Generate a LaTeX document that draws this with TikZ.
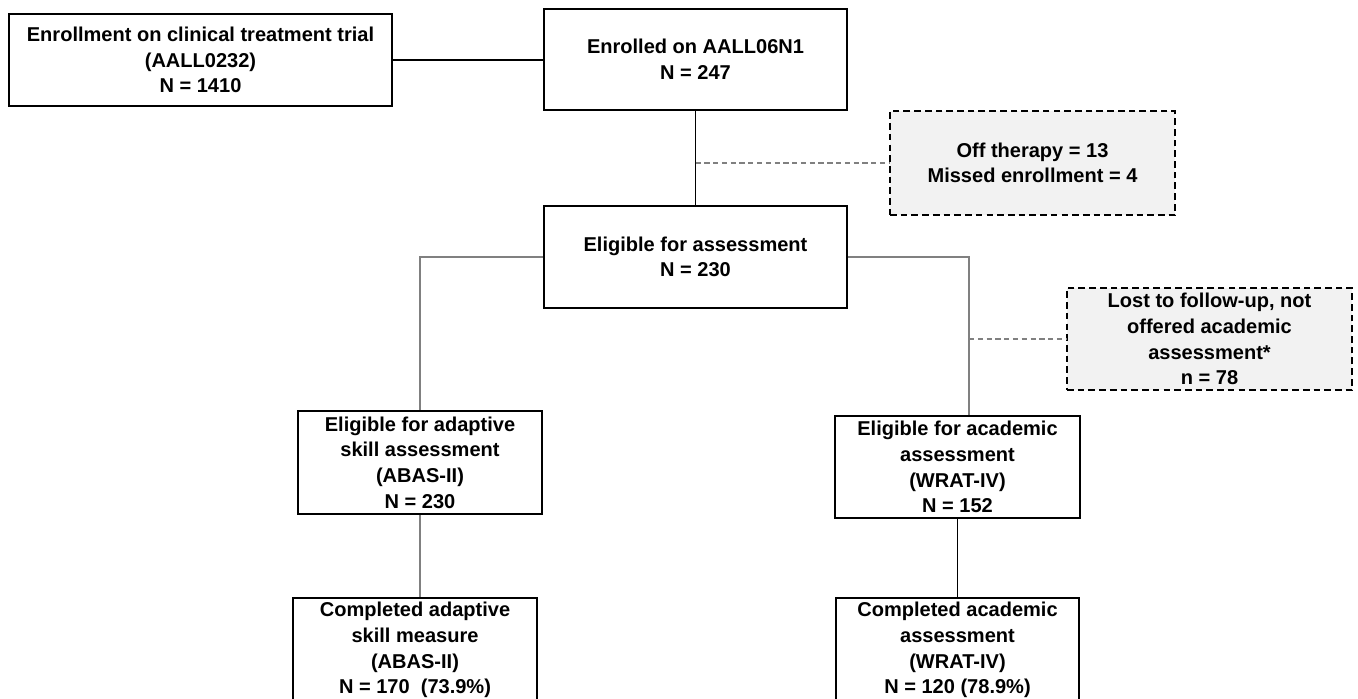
\documentclass[tikz,border=0pt]{standalone}
\usepackage{fontspec}
\setmainfont{Liberation Sans}
\usepackage{tikz}

\begin{document}
\begin{tikzpicture}[x=0.02cm,y=-0.02cm,
                    box/.style={draw,line width=1.1pt,align=center,inner sep=0pt,
                                font=\fontsize{11.4}{14.6}\selectfont\bfseries},
                    lostbox/.style={box,dash pattern=on 3.8pt off 2.3pt,fill=gray!10},
                    link/.style={line width=0.6pt},
                    branch/.style={line width=0.8pt,draw=gray},
                    aside/.style={line width=0.6pt,draw=gray,densely dashed}]
                    \useasboundingbox (0,0) rectangle (1358,698);

                    \node[box,minimum width=7.66cm,minimum height=1.84cm] at (200.5,60) (trial) {Enrollment on clinical treatment trial\\(AALL0232)\\N = 1410};
                    \node[box,minimum width=6.06cm,minimum height=2.02cm] at (695.5,59.5) (enrolled) {Enrolled on AALL06N1\\N = 247};
                    \node[lostbox,minimum width=5.7cm,minimum height=2.08cm] at (1032.5,163) (offtherapy) {Off therapy = 13\\Missed enrollment = 4};
                    \node[box,minimum width=6.06cm,minimum height=2.04cm] at (695.5,257) (eligible) {Eligible for assessment\\N = 230};
                    \node[lostbox,minimum width=5.7cm,minimum height=2.04cm] at (1209.5,339) (lost) {Lost to follow-up, not\\offered academic\\assessment*\\n = 78};
                    \node[box,minimum width=4.88cm,minimum height=2.06cm] at (420,462.5) (adaptive) {Eligible for adaptive\\skill assessment\\(ABAS-II)\\N = 230};
                    \node[box,minimum width=4.9cm,minimum height=2.04cm] at (957.5,467) (academic) {Eligible for academic\\assessment\\(WRAT-IV)\\N = 152};
                    \node[box,minimum width=4.88cm,minimum height=2.08cm] at (415,650) (adaptdone) {Completed adaptive\\skill measure\\(ABAS-II)\\N = 170~~(73.9\%)};
                    \node[box,minimum width=4.86cm,minimum height=2.08cm] at (957.5,650) (acaddone) {Completed academic\\assessment\\(WRAT-IV)\\N = 120 (78.9\%)};
                    \coordinate (split) at ([xshift=0.23cm]academic.north);

                    \draw[link] (trial.east) -- (trial.east -| enrolled.west);
                    \draw[link] (enrolled) -- (eligible);
                    \draw[aside] (offtherapy.west -| enrolled.south) -- (offtherapy.west);
                    \draw[branch] (eligible.west) -| (adaptive.north);
                    \draw[branch] (eligible.east) -| (split);
                    \draw[aside] (lost.west -| split) -- (lost.west);
                    \draw[branch] (adaptive.south) -- (adaptive.south |- adaptdone.north);
                    \draw[link] (academic.south) -- (academic.south |- acaddone.north);
                \end{tikzpicture}
\end{document}
